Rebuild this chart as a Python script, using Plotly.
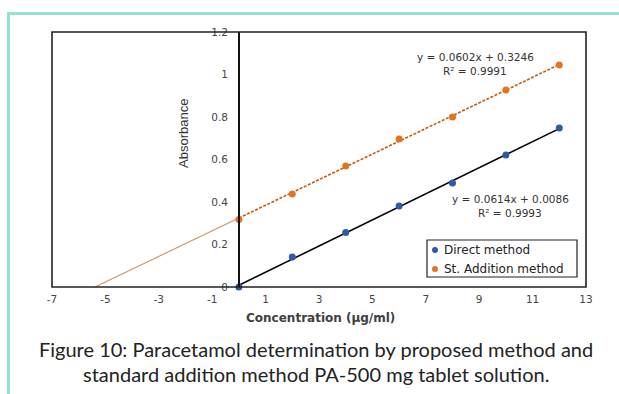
import plotly.graph_objects as go

# ---- data ----
conc = [0, 2, 4, 6, 8, 10, 12]
direct_abs = [0.0, 0.141, 0.257, 0.381, 0.489, 0.621, 0.748]
addition_abs = [0.318, 0.438, 0.569, 0.696, 0.800, 0.927, 1.045]

direct_slope, direct_icpt = 0.0614, 0.0086
add_slope, add_icpt = 0.0602, 0.3246

eq_direct = ["y = 0.0614x + 0.0086", "R² = 0.9993"]
eq_add = ["y = 0.0602x + 0.3246", "R² = 0.9991"]

x_tickvals = [-7, -5, -3, -1, 1, 3, 5, 7, 9, 11, 13]
x_ticktext = ["-7", "-5", "-3", "-1", "1", "3", "5", "7", "9", "11", "13"]
y_tickvals = [0, 0.2, 0.4, 0.6, 0.8, 1.0, 1.2]
y_ticktext = ["0", "0.2", "0.4", "0.6", "0.8", "1", "1.2"]

series_names = ["Direct method", "St. Addition method"]
x_title = "Concentration (µg/ml)"
y_title = "Absorbance"
caption = ["Figure 10: Paracetamol determination by proposed method and",
           "standard addition method PA-500 mg tablet solution."]

BLUE = "#2f5aa8"
ORANGE = "#e8731f"
DARK_OR = "#c55a11"
EXT_OR = "#c99565"

W, H = 619, 394
L, R, T, B = 52, 586, 32, 287  # plot area pixels


def px(x):
    return (x - L) / (R - L)


def py(y):
    return (B - y) / (B - T)


fig = go.Figure()

# trendlines
x_end = conc[-1]
fig.add_trace(go.Scatter(x=[0, x_end], y=[direct_icpt, direct_slope * x_end + direct_icpt],
                         mode="lines", line=dict(color="black", width=1.6),
                         showlegend=False, hoverinfo="skip"))
x_int = -add_icpt / add_slope
fig.add_trace(go.Scatter(x=[x_int, 0], y=[0, add_icpt],
                         mode="lines", line=dict(color=EXT_OR, width=1.1),
                         showlegend=False, hoverinfo="skip"))
fig.add_trace(go.Scatter(x=[0, x_end], y=[add_icpt, add_slope * x_end + add_icpt],
                         mode="lines", line=dict(color=DARK_OR, width=1.6, dash="3px,1.5px"),
                         showlegend=False, hoverinfo="skip"))

# data points
fig.add_trace(go.Scatter(x=conc, y=direct_abs, mode="markers", name=series_names[0],
                         marker=dict(color=BLUE, size=7, line=dict(width=0)),
                         showlegend=False, cliponaxis=False))
fig.add_trace(go.Scatter(x=conc, y=addition_abs, mode="markers", name=series_names[1],
                         marker=dict(color=ORANGE, size=7, line=dict(width=0)),
                         showlegend=False, cliponaxis=False))

shapes = []
annotations = []

# plot box
shapes.append(dict(type="rect", xref="paper", yref="paper", x0=0, x1=1, y0=0, y1=1,
                   line=dict(color="#222222", width=1.6), layer="above"))
# teal frame
shapes.append(dict(type="rect", xref="paper", yref="paper", x0=px(8.5), x1=px(660),
                   y0=py(430), y1=py(13.5), line=dict(color="#8fe3cf", width=3)))

# legend (manual)
lx0, lx1, ly0, ly1 = 427, 577, 240, 277
shapes.append(dict(type="rect", xref="paper", yref="paper", x0=px(lx0), x1=px(lx1),
                   y0=py(ly1), y1=py(ly0), line=dict(color="#222222", width=1.2),
                   fillcolor="white", layer="above"))
for i, (col, yy) in enumerate([(BLUE, 250), (ORANGE, 269)]):
    shapes.append(dict(type="circle", xref="paper", yref="paper",
                       x0=px(432), x1=px(438), y0=py(yy + 3), y1=py(yy - 3),
                       fillcolor=col, line=dict(width=0), layer="above"))
    annotations.append(dict(xref="paper", yref="paper", x=px(442), y=py(yy),
                            text=series_names[i], showarrow=False, xanchor="left",
                            yanchor="middle", font=dict(family="DejaVu Sans", size=12,
                                                       color="#222222")))

# equations
for lines, cx, cy in [(eq_add, 475, 57), (eq_direct, 510, 199)]:
    for k, t in enumerate(lines):
        annotations.append(dict(xref="paper", yref="paper", x=px(cx), y=py(cy + 14 * k),
                                text=t, showarrow=False, xanchor="center", yanchor="middle",
                                font=dict(family="DejaVu Sans", size=10.5, color="#333333")))

# axis titles
annotations.append(dict(xref="paper", yref="paper", x=px(320), y=py(318), text="<b>" + x_title + "</b>",
                        showarrow=False, xanchor="center", yanchor="middle",
                        font=dict(family="DejaVu Sans", size=12, color="#404040")))
annotations.append(dict(xref="paper", yref="paper", x=px(183), y=py(134), text=y_title,
                        showarrow=False, textangle=-90, xanchor="center", yanchor="middle",
                        font=dict(family="Liberation Sans Narrow, Liberation Sans", size=13,
                                  color="#333333")))
# caption
for k, t in enumerate(caption):
    annotations.append(dict(xref="paper", yref="paper", x=px(316), y=py(349 + 25 * k), text=t,
                            showarrow=False, xanchor="center", yanchor="middle",
                            font=dict(family="Lato", size=20, color="#222222")))

fig.update_layout(
    width=W, height=H,
    margin=dict(l=L, r=W - R, t=T, b=H - B),
    paper_bgcolor="white", plot_bgcolor="white",
    showlegend=False,
    shapes=shapes, annotations=annotations,
    xaxis=dict(range=[-7, 13], tickvals=x_tickvals, ticktext=x_ticktext, showgrid=False,
               zeroline=False, showline=False, ticks="", ticklabelstandoff=4,
               tickfont=dict(family="DejaVu Sans", size=10.5, color="#444444")),
    yaxis=dict(range=[0, 1.2], tickvals=y_tickvals, ticktext=y_ticktext, showgrid=False,
               zeroline=False, anchor="free", position=7 / 20, showline=True,
               linecolor="#111111", linewidth=1.6, ticks="", ticklabelstandoff=8,
               tickfont=dict(family="DejaVu Sans", size=10.5, color="#444444")),
)

fig.write_html("out.html", config={"displayModeBar": False},
               post_script="document.body.style.margin='0px';")
